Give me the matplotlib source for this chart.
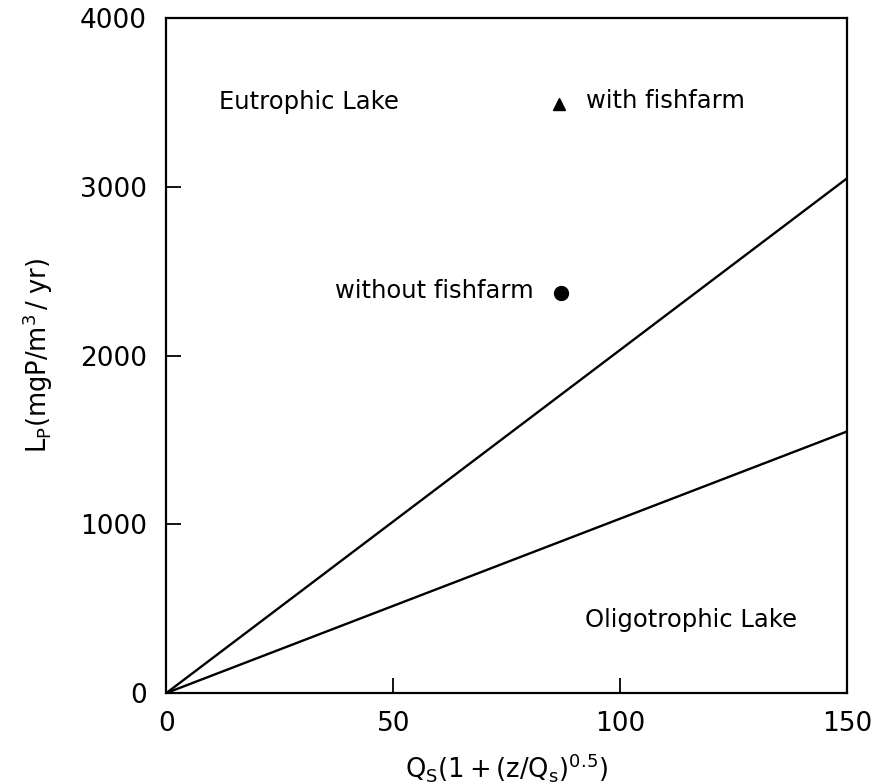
import matplotlib
matplotlib.use("Agg")
import matplotlib.pyplot as plt

# Data
line_x = [0, 150]
upper_line_y = [0, 3050]
lower_line_y = [0, 1550]
with_fishfarm = (86.5, 3490)
without_fishfarm = (87, 2370)
x_ticks = [0, 50, 100, 150]
y_ticks = [0, 1000, 2000, 3000, 4000]

plt.rcParams['font.family'] = ['DejaVu Sans']
plt.rcParams['mathtext.fontset'] = 'dejavusans'

fig = plt.figure(figsize=(8.8, 7.84), dpi=100)
ax = fig.add_axes([0.189, 0.116, 0.7735, 0.861])

ax.plot(line_x, upper_line_y, color='black', lw=1.7)
ax.plot(line_x, lower_line_y, color='black', lw=1.7)
ax.plot([with_fishfarm[0]], [with_fishfarm[1]], marker='^', color='black', ms=8, ls='none')
ax.plot([without_fishfarm[0]], [without_fishfarm[1]], marker='o', color='black', ms=10, ls='none')

ax.text(11.5, 3500, 'Eutrophic Lake', fontsize=17.5, va='center', ha='left')
ax.text(92.5, 3510, 'with fishfarm', fontsize=17.5, va='center', ha='left')
ax.text(81, 2385, 'without fishfarm', fontsize=17.5, va='center', ha='right')
ax.text(92.3, 430, 'Oligotrophic Lake', fontsize=17.5, va='center', ha='left')

ax.set_xlim(0, 150)
ax.set_ylim(0, 4000)
ax.set_xticks(x_ticks)
ax.set_yticks(y_ticks)
ax.set_xticklabels([str(v) for v in x_ticks])
ax.set_yticklabels([str(v) for v in y_ticks])
ax.tick_params(direction='in', length=11, width=1.3, labelsize=19, pad=14)
ax.tick_params(axis='x', pad=13)
for s in ax.spines.values():
    s.set_linewidth(1.6)

ax.set_xlabel(r'$\mathregular{Q_S(1 + (z/Q_s)^{0.5})}$', fontsize=18.5, labelpad=10)
ax.set_ylabel(r'$\mathregular{L_P(mgP/m^3\,/\; yr)}$', fontsize=18.5, labelpad=18)

fig.savefig('out.png', dpi=100)
